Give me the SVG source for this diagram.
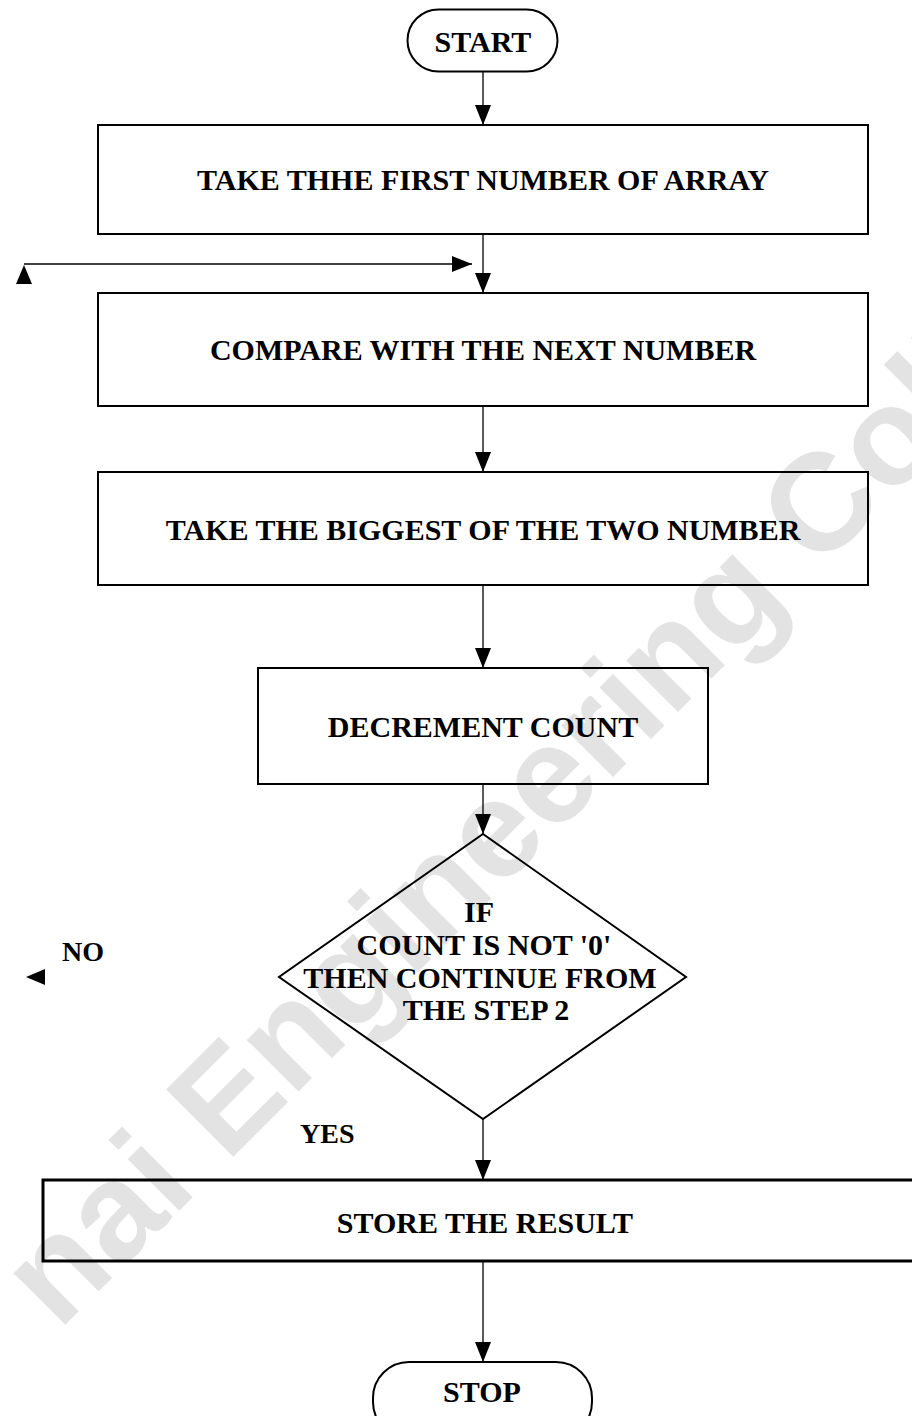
<svg xmlns="http://www.w3.org/2000/svg" width="912" height="1416" viewBox="0 0 912 1416">
  <style>
    .box { fill: none; stroke: #000; stroke-width: 2; }
    .wire { fill: none; stroke: #000; stroke-width: 1.3; }
    .head { fill: #000; stroke: none; }
    .t { font-family: "Liberation Serif", "Times New Roman", serif; font-weight: bold; font-size: 30px; fill: #000; text-anchor: middle; }
    .lbl { font-family: "Liberation Serif", "Times New Roman", serif; font-weight: bold; font-size: 28px; fill: #000; }
    .wm { font-family: "Liberation Sans", Arial, sans-serif; font-weight: bold; font-size: 138px; fill: #e3e3e3; }
  </style>
  <defs>
    <marker id="arrow" markerUnits="userSpaceOnUse" markerWidth="20" markerHeight="16" refX="20" refY="8" orient="auto">
      <path d="M0,0 L20,8 L0,16 Z" fill="#000"/>
    </marker>
  </defs>

  <rect width="912" height="1416" fill="#fff"/>

  <!-- background stamp -->
  <text class="wm" transform="translate(118,1272) rotate(-45)" x="-84" y="0">nai Engineering College</text>

  <g id="connectors">
    <line class="wire" x1="483" y1="72" x2="483" y2="125" marker-end="url(#arrow)"/>
    <line class="wire" x1="483" y1="234" x2="483" y2="293" marker-end="url(#arrow)"/>
    <line class="wire" x1="24" y1="264" x2="472" y2="264" marker-end="url(#arrow)"/>
    <polygon class="head" points="24,265 16,284 32,284"/>
    <line class="wire" x1="483" y1="406" x2="483" y2="472" marker-end="url(#arrow)"/>
    <line class="wire" x1="483" y1="585" x2="483" y2="668" marker-end="url(#arrow)"/>
    <line class="wire" x1="483" y1="784" x2="483" y2="834" marker-end="url(#arrow)"/>
    <line class="wire" x1="483" y1="1119" x2="483" y2="1180" marker-end="url(#arrow)"/>
    <line class="wire" x1="483" y1="1261" x2="483" y2="1362" marker-end="url(#arrow)"/>
    <polygon class="head" points="26,977 45,969 45,985"/>
  </g>

  <g id="start">
    <rect class="box" x="407.5" y="9.5" width="150" height="62" rx="31" ry="31"/>
    <text class="t" x="483" y="52">START</text>
  </g>

  <g id="take-first">
    <rect class="box" x="98" y="125" width="770" height="109"/>
    <text class="t" x="483" y="190">TAKE THHE FIRST NUMBER OF ARRAY</text>
  </g>

  <g id="compare">
    <rect class="box" x="98" y="293" width="770" height="113"/>
    <text class="t" x="483" y="360">COMPARE WITH THE NEXT NUMBER</text>
  </g>

  <g id="take-biggest">
    <rect class="box" x="98" y="472" width="770" height="113"/>
    <text class="t" x="483" y="540">TAKE THE BIGGEST OF THE TWO NUMBER</text>
  </g>

  <g id="decrement">
    <rect class="box" x="258" y="668" width="450" height="116"/>
    <text class="t" x="483" y="737">DECREMENT COUNT</text>
  </g>

  <g id="decision">
    <polygon class="box" points="483,834 686,977 483,1119 279,977"/>
    <text class="t" x="479" y="922">IF</text>
    <text class="t" x="484" y="955">COUNT IS NOT '0'</text>
    <text class="t" x="480" y="988">THEN CONTINUE FROM</text>
    <text class="t" x="486" y="1020">THE STEP 2</text>
  </g>

  <g id="no-label">
    <text class="lbl" x="62" y="961">NO</text>
  </g>

  <g id="yes-label">
    <text class="lbl" x="300" y="1143">YES</text>
  </g>

  <g id="store">
    <rect class="box" x="43" y="1180" width="900" height="81" style="stroke-width:3"/>
    <text class="t" x="485" y="1233">STORE THE RESULT</text>
  </g>

  <g id="stop">
    <rect class="box" x="373" y="1362" width="219" height="76" rx="36" ry="36"/>
    <text class="t" x="482" y="1402">STOP</text>
  </g>
</svg>
